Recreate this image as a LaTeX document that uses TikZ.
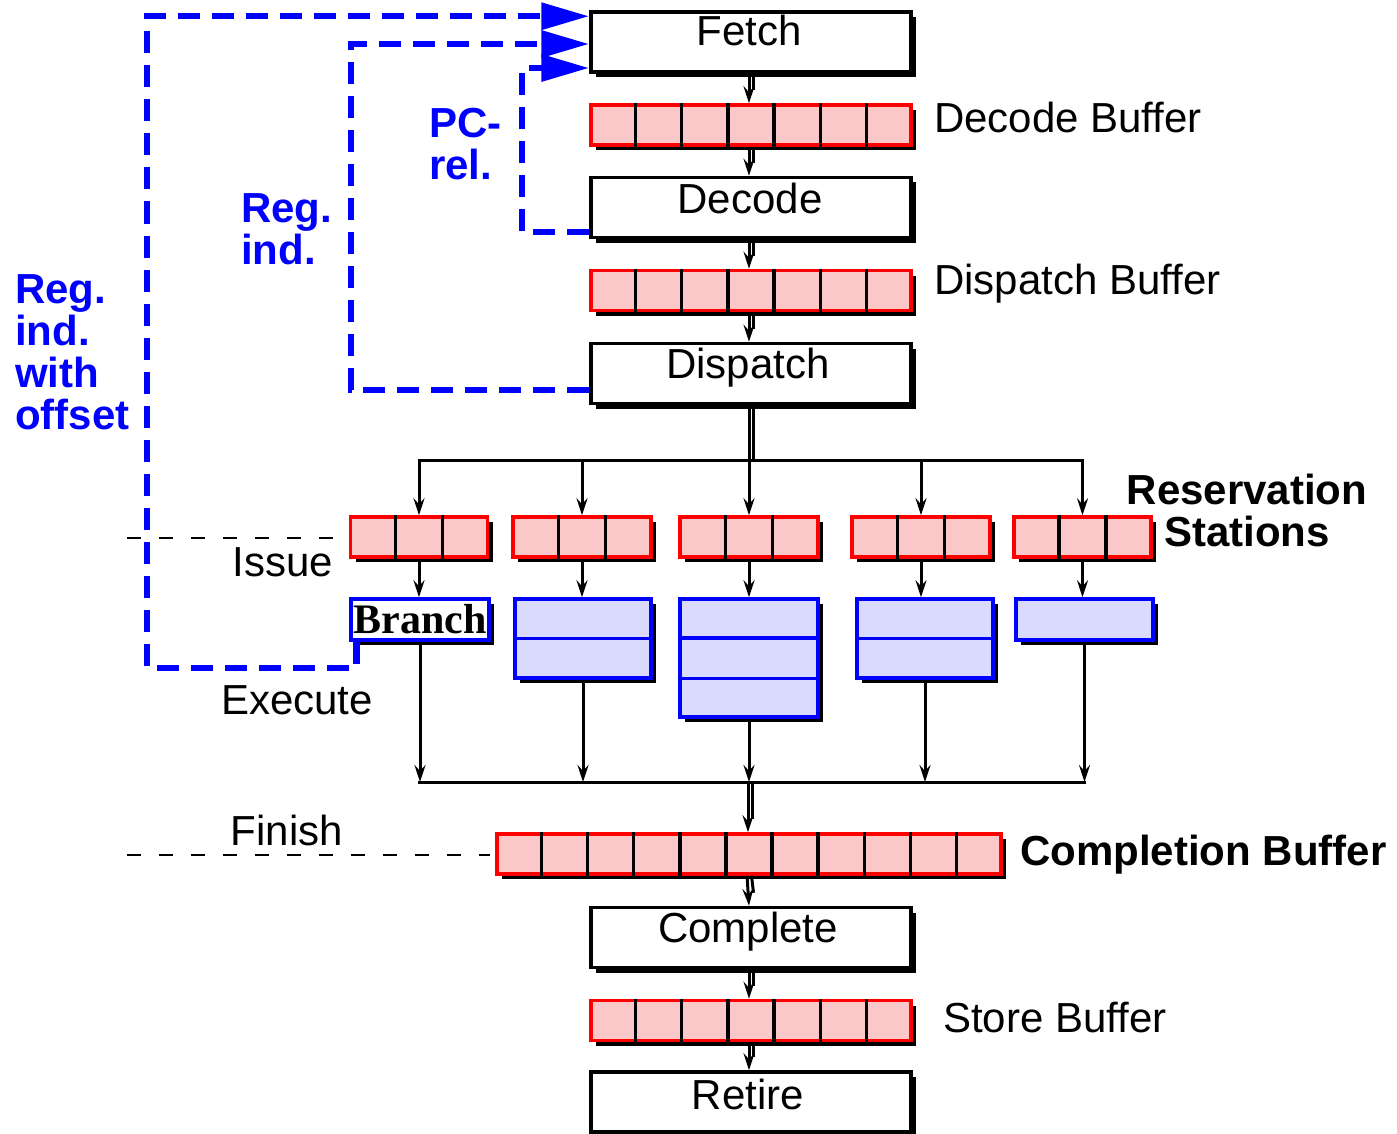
\documentclass[tikz,border=0pt]{standalone}
\usepackage{fontspec}
\setmainfont{Liberation Sans}
\newfontfamily\serifb{Liberation Serif}
\usetikzlibrary{arrows.meta,calc,shadows}
\definecolor{bufpink}{RGB}{250,200,200}
\definecolor{fublue}{RGB}{218,218,252}
\newcommand\mydivs[2]{%
  \pgfmathtruncatemacro\nm{#2-1}%
  \foreach \i in {1,...,\nm}{\draw[divline] ($(#1.north west)!\i/#2!(#1.north east)$) -- ($(#1.south west)!\i/#2!(#1.south east)$);}}
\newcommand\dblarrow[2]{%
  \draw[arr] ($(#1.south)+(-2,0)$) -- ($(#2.north)+(-2,0)$);
  \draw[ln] ($(#1.south)+(2.5,0)$) -- ($(#2.north)+(2.5,-13)$);}
\begin{document}
\begin{tikzpicture}[x=1pt,y=-1pt,
  every node/.style={font=\fontsize{42}{42}\selectfont, inner sep=0pt},
  shad/.style={general shadow={fill=black, shadow xshift=5pt, shadow yshift=-5pt}},
  stage/.style={draw=black, line width=3.5pt, fill=white, minimum width=320pt, minimum height=60pt, shad},
  stagetxt/.style={anchor=base},
  buf/.style={draw=red, line width=3.5pt, fill=bufpink, minimum height=40pt, shad},
  fu/.style={draw=blue, line width=3.5pt, fill=fublue, shad},
  divline/.style={draw=black, line width=3.5pt},
  fudiv/.style={draw=blue, line width=3.5pt},
  ln/.style={draw=black, line width=3pt},
  arr/.style={draw=black, line width=3pt, -{Stealth[length=17pt, width=11pt, inset=6pt]}},
  bluedash/.style={draw=blue, line width=6.5pt, dash pattern=on 22pt off 12pt, -{Triangle[length=48pt, width=26pt]}},
  thindash/.style={draw=black, line width=1.5pt, dash pattern=on 14pt off 18pt},
  bluetxt/.style={text=blue, font=\fontsize{42}{42}\selectfont\bfseries, align=left, anchor=north west},
  lbl/.style={anchor=west}
]
\path[use as bounding box, fill=white] (0,0) rectangle (1397,1134);

% stages
\node[stage] (fetch) at (751,42) {};
\node[stage] (decode) at (751,207.5) {};
\node[stage] (dispatch) at (751,373.5) {};
\node[stage] (complete) at (751,937.5) {};
\node[stage] (retire) at (751,1102) {};
\node[stagetxt] (tfetch) at ($(fetch.north)+(-2,35)$) {Fetch};
\node[stagetxt] (tdecode) at ($(decode.north)+(-1,38)$) {Decode};
\node[stagetxt] (tdispatch) at ($(dispatch.north)+(-3,37)$) {Dispatch};
\node[stagetxt] (tcomplete) at ($(complete.north)+(-3,37)$) {Complete};
\node[stagetxt] (tretire) at ($(retire.north)+(-3,39)$) {Retire};

% buffers
\node[buf, minimum width=320pt] (dbuf) at (751,125) {};
\node[buf, minimum width=320pt] (pbuf) at (751,290.5) {};
\node[buf, minimum width=504pt] (cbuf) at (749,854) {};
\node[buf, minimum width=320pt] (sbuf) at (751,1020.5) {};
\mydivs{dbuf}{7}
\mydivs{pbuf}{7}
\mydivs{cbuf}{11}
\mydivs{sbuf}{7}
\node[lbl] (ldbuf) at (934,117) {Decode Buffer};
\node[lbl] (lpbuf) at (934,284) {Dispatch Buffer};
\node[lbl] (lsbuf) at (943,1017) {Store Buffer};
\node[lbl, font=\fontsize{42}{42}\selectfont\bfseries] (lcbuf) at (1020,855) {Completion Buffer};

% reservation stations
\node[buf, minimum width=137pt] (rs1) at (419,537) {};
\node[buf, minimum width=138pt] (rs2) at (582,537) {};
\node[buf, minimum width=138pt] (rs3) at (749,537) {};
\node[buf, minimum width=138pt] (rs4) at (921,537) {};
\node[buf, minimum width=137pt] (rs5) at (1082.5,537) {};
\foreach \r in {rs1,rs2,rs3,rs4,rs5}{\mydivs{\r}{3}}
\node[font=\fontsize{42}{42}\selectfont\bfseries, align=center, anchor=north] (lrs) at (1247,473.5) {Reservation\\ Stations};

% functional units
\node[fu, fill=white, minimum width=138pt, minimum height=41pt, font=\fontsize{42}{42}\serifb\bfseries] (fu1) at (420,619.5) {Branch};
\node[fu, minimum width=136pt, minimum height=79pt] (fu2) at (583,638.5) {};
\node[fu, minimum width=138pt, minimum height=118pt] (fu3) at (749,658) {};
\node[fu, minimum width=136pt, minimum height=79pt] (fu4) at (925,638.5) {};
\node[fu, minimum width=137pt, minimum height=41pt] (fu5) at (1084.5,619.5) {};
\draw[fudiv] (fu2.west) -- (fu2.east);
\draw[fudiv] (fu4.west) -- (fu4.east);
\draw[fudiv] ($(fu3.north west)!1/3!(fu3.south west)$) -- ($(fu3.north east)!1/3!(fu3.south east)$);
\draw[fudiv] ($(fu3.north west)!2/3!(fu3.south west)$) -- ($(fu3.north east)!2/3!(fu3.south east)$);

% stage arrows
\dblarrow{fetch}{dbuf}
\dblarrow{dbuf}{decode}
\dblarrow{decode}{pbuf}
\dblarrow{pbuf}{dispatch}
\dblarrow{cbuf}{complete}
\dblarrow{complete}{sbuf}
\dblarrow{sbuf}{retire}

% dispatch bus
\coordinate (tbL) at (418,460);
\coordinate (tbR) at (1084,460);
\draw[ln] ($(dispatch.south)+(-2,0)$) -- ($(dispatch.south |- tbL)+(-2,0)$);
\draw[ln] ($(dispatch.south)+(2.5,0)$) -- ($(dispatch.south |- tbL)+(2.5,0)$);
\draw[ln] (tbL) -- (tbR);
\foreach \r in {rs1,rs2,rs3,rs4,rs5}{\draw[arr] (\r.north |- tbL) -- (\r.north);}
\foreach \r/\f in {rs1/fu1,rs2/fu2,rs3/fu3,rs4/fu4,rs5/fu5}{\draw[arr] (\r.south) -- (\r.south |- \f.north);}

% result bus
\coordinate (bbL) at (418,782);
\coordinate (bbR) at (1086,782);
\draw[ln] (bbL) -- (bbR);
\foreach \f in {fu1,fu2,fu3,fu4,fu5}{\draw[arr] (\f.south) -- (\f.south |- bbL);}
\draw[arr] ($(cbuf.north |- bbL)+(-1,0)$) -- ($(cbuf.north)+(-1,0)$);
\draw[ln] ($(cbuf.north |- bbL)+(3.5,0)$) -- ($(cbuf.north)+(3.5,-13)$);

% stage boundaries
\coordinate (iL) at (127,538);
\coordinate (iR) at (338,538);
\coordinate (fL) at (127,855);
\coordinate (fR) at (490,855);
\draw[thindash] (iL) -- (iR);
\draw[thindash] (fL) -- (fR);
\node (lissue) at (283,562) {Issue};
\node (lexec) at (297,700) {Execute};
\node (lfinish) at (287,830) {Finish};

% branch target paths
\coordinate (oc) at (147,668);
\coordinate (mc) at (351,44);
\coordinate (ic) at (522,68);
\draw[bluedash] ($(fu1.south west)+(7,0)$) |- (oc) |- ($(fetch.north west)+(0,6)$);
\draw[bluedash] ($(dispatch.west)+(0,16.5)$) -| (mc) -- ($(fetch.west)+(0,2)$);
\draw[bluedash] ($(decode.west)+(0,24.5)$) -| (ic) -- ($(fetch.west)+(0,26)$);

\node[bluetxt] (lpc) at (429,107.5) {PC-\\rel.};
\node[bluetxt] (lri) at (241,193.5) {Reg.\\ind.};
\node[bluetxt] (lrio) at (15,274.5) {Reg.\\ind.\\with\\offset};
\end{tikzpicture}
\end{document}
